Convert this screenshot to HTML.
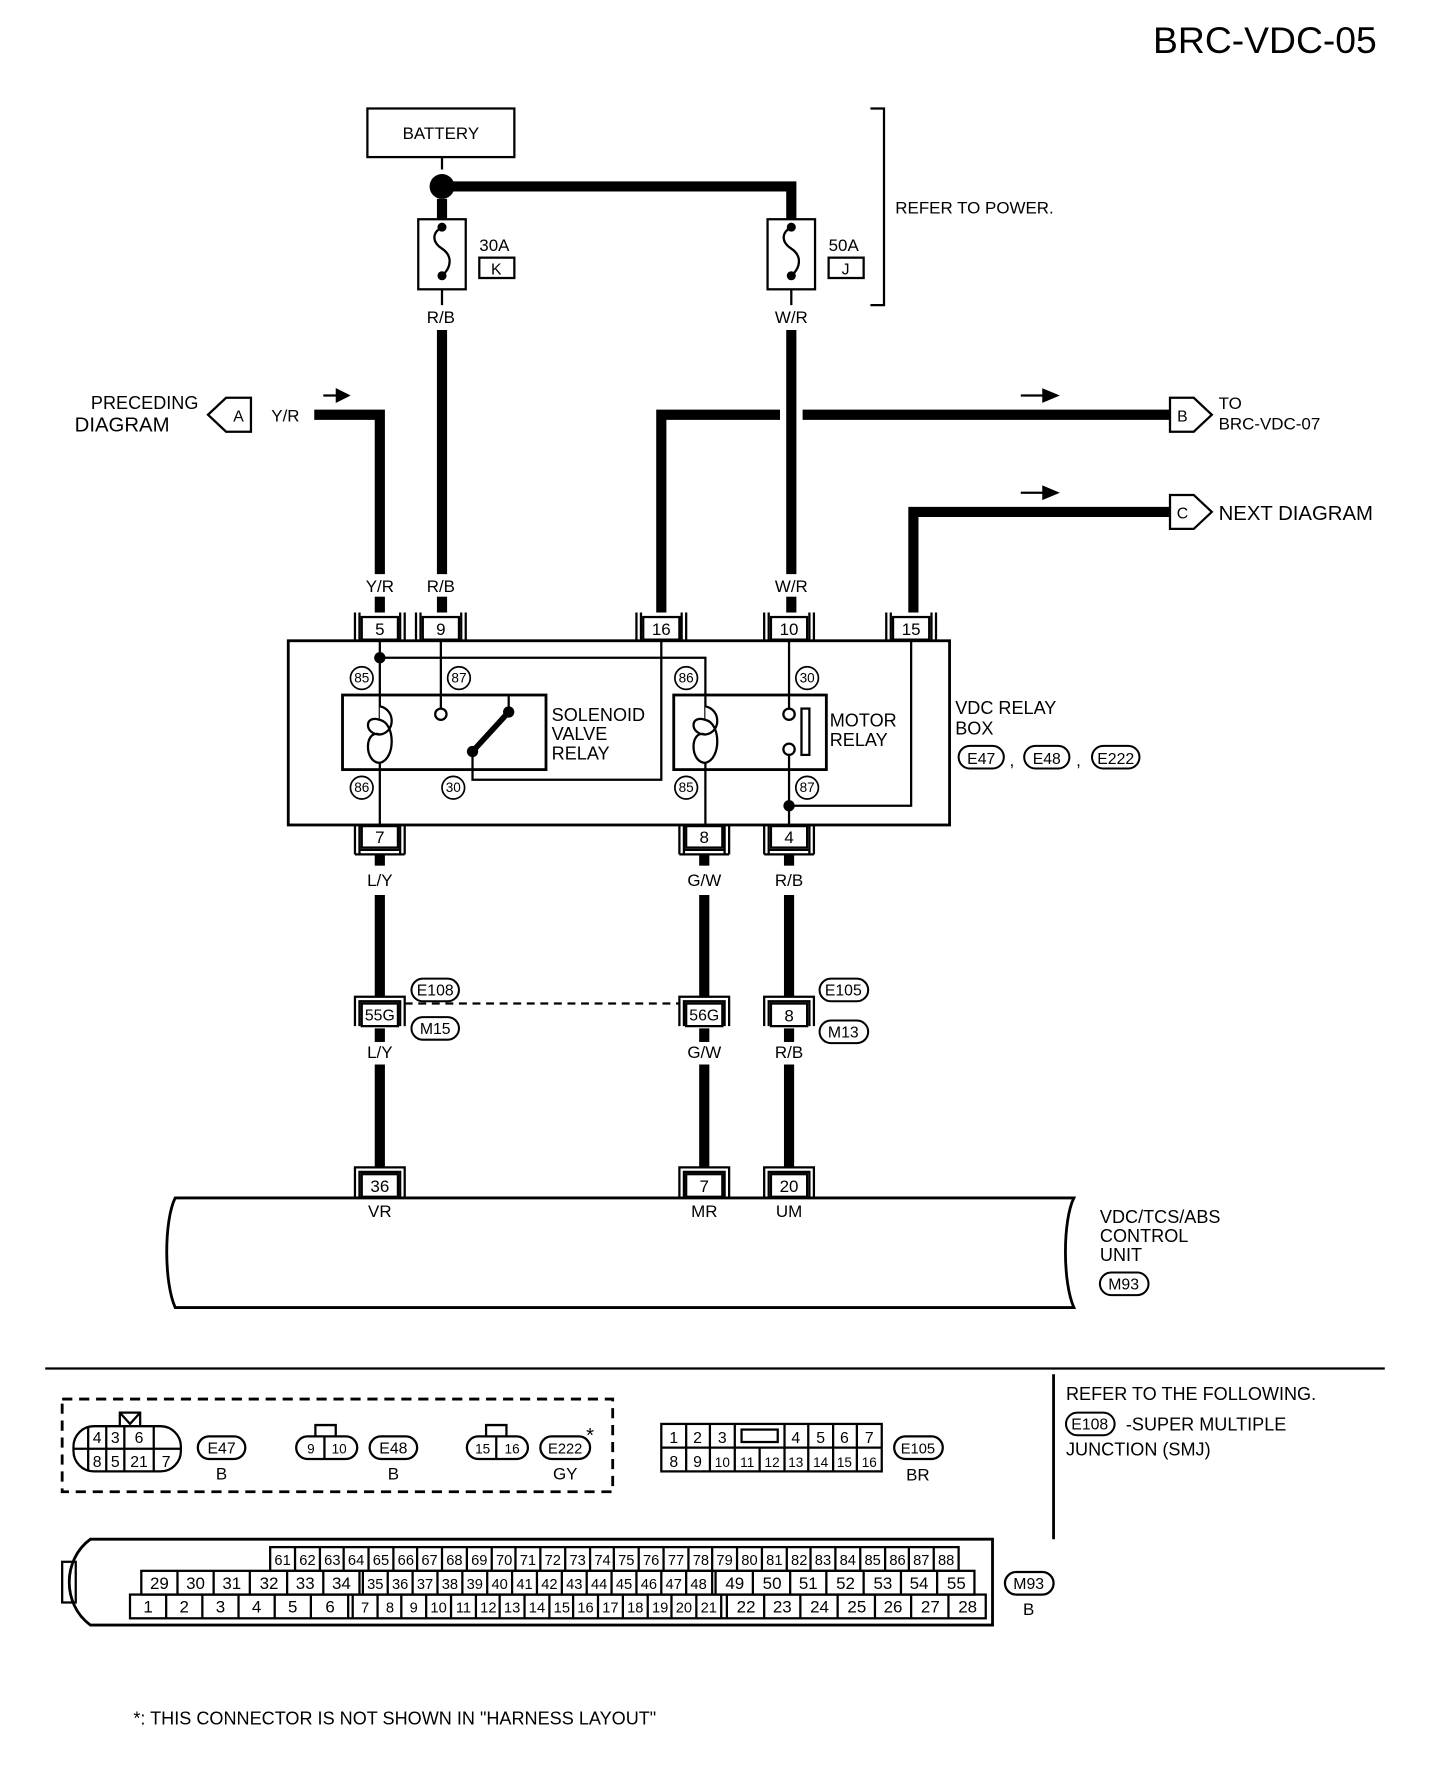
<!DOCTYPE html>
<html><head><meta charset="utf-8"><style>
html,body{margin:0;padding:0;background:#fff}
svg{display:block}
text{font-family:"Liberation Sans",sans-serif;fill:#000}
</style></head><body>
<svg width="1456" height="1772" viewBox="0 0 1288 1568" preserveAspectRatio="none" xmlns="http://www.w3.org/2000/svg">
<text x="1020" y="47" font-size="33">BRC-VDC-05</text>

<rect x="325" y="96" width="130" height="43" fill="none" stroke="#000" stroke-width="2"/>
<text x="390" y="123" font-size="15" text-anchor="middle">BATTERY</text>
<polyline points="770,96 782,96 782,270 770,270" fill="none" stroke="#000" stroke-width="2"/>
<text x="792" y="189" font-size="15">REFER TO POWER.</text>
<line x1="391" y1="139" x2="391" y2="150" stroke="#000" stroke-width="2"/>
<circle cx="391" cy="165" r="11" fill="#000"/>
<g stroke="#000" stroke-width="9" fill="none">
<polyline points="391,165 700,165 700,194"/>
<line x1="391" y1="176" x2="391" y2="194"/>
<line x1="391" y1="292" x2="391" y2="508"/>
<line x1="700" y1="292" x2="700" y2="508"/>
<polyline points="278,367 336,367 336,508"/>
<polyline points="585,542 585,367 690,367"/>
<line x1="710" y1="367" x2="1035" y2="367"/>
<polyline points="808,542 808,453 1035,453"/>
<line x1="336" y1="528" x2="336" y2="542"/>
<line x1="391" y1="528" x2="391" y2="542"/>
<line x1="700" y1="528" x2="700" y2="542"/>
</g>
<g fill="none" stroke="#000" stroke-width="2">
<rect x="370" y="194" width="42" height="62"/>
<path d="M391,201 C382,206 382,214 391,220 C400,226 400,236 391,244"/>
<rect x="679" y="194" width="42" height="62"/>
<path d="M700,201 C691,206 691,214 700,220 C709,226 709,236 700,244"/>
<rect x="424" y="228" width="31" height="18"/>
<rect x="733" y="228" width="31" height="18"/>
</g>
<circle cx="391" cy="201" r="4" fill="#000"/><circle cx="391" cy="244" r="4" fill="#000"/>
<circle cx="700" cy="201" r="4" fill="#000"/><circle cx="700" cy="244" r="4" fill="#000"/>
<line x1="391" y1="256" x2="391" y2="270" stroke="#000" stroke-width="2"/>
<line x1="700" y1="256" x2="700" y2="270" stroke="#000" stroke-width="2"/>
<text x="424" y="222" font-size="15">30A</text>
<text x="439" y="243" font-size="14" text-anchor="middle">K</text>
<text x="733" y="222" font-size="15">50A</text>
<text x="748" y="243" font-size="14" text-anchor="middle">J</text>
<text x="390" y="286" font-size="15" text-anchor="middle">R/B</text>
<text x="700" y="286" font-size="15" text-anchor="middle">W/R</text>

<polygon points="184,367 200,352 222,352 222,382 200,382" fill="#fff" stroke="#000" stroke-width="2"/>
<text x="211" y="373" font-size="14" text-anchor="middle">A</text>
<text x="128" y="362" font-size="16" text-anchor="middle">PRECEDING</text>
<text x="108" y="382" font-size="18" text-anchor="middle">DIAGRAM</text>
<text x="240" y="373" font-size="15">Y/R</text>
<polygon points="1035,352 1056,352 1072,367 1056,382 1035,382" fill="#fff" stroke="#000" stroke-width="2"/>
<text x="1046" y="373" font-size="14" text-anchor="middle">B</text>
<text x="1078" y="362" font-size="15">TO</text>
<text x="1078" y="380" font-size="15">BRC-VDC-07</text>
<polygon points="1035,438 1056,438 1072,453 1056,468 1035,468" fill="#fff" stroke="#000" stroke-width="2"/>
<text x="1046" y="459" font-size="14" text-anchor="middle">C</text>
<text x="1078" y="460" font-size="18">NEXT DIAGRAM</text>
<g stroke="#000" stroke-width="2" fill="#000">
<line x1="286" y1="350" x2="300" y2="350"/><polygon points="298,345 308,350 298,355"/>
<line x1="903" y1="350" x2="925" y2="350"/><polygon points="923,345 935,350 923,355"/>
<line x1="903" y1="436" x2="925" y2="436"/><polygon points="923,431 935,436 923,441"/>
</g>

<g font-size="15" text-anchor="middle">
<text x="336" y="524">Y/R</text><text x="390" y="524">R/B</text><text x="700" y="524">W/R</text>
<text x="336" y="784">L/Y</text><text x="623" y="784">G/W</text><text x="698" y="784">R/B</text>
<text x="336" y="936">L/Y</text><text x="623" y="936">G/W</text><text x="698" y="936">R/B</text>
<text x="336" y="1077">VR</text><text x="623" y="1077">MR</text><text x="698" y="1077">UM</text>
</g>

<g fill="#fff" stroke="#000" stroke-width="2">
<path d="M314,542 V567 M318,542 V567 M354,542 V567 M358,542 V567" /><rect x="320" y="546" width="32" height="20"/>
<path d="M368,542 V567 M372,542 V567 M408,542 V567 M412,542 V567" /><rect x="374" y="546" width="32" height="20"/>
<path d="M563,542 V567 M567,542 V567 M603,542 V567 M607,542 V567" /><rect x="569" y="546" width="32" height="20"/>
<path d="M676,542 V567 M680,542 V567 M716,542 V567 M720,542 V567" /><rect x="682" y="546" width="32" height="20"/>
<path d="M784,542 V567 M788,542 V567 M824,542 V567 M828,542 V567" /><rect x="790" y="546" width="32" height="20"/>
</g>
<g font-size="15" text-anchor="middle">
<text x="336" y="562">5</text><text x="390" y="562">9</text><text x="585" y="562">16</text><text x="698" y="562">10</text><text x="806" y="562">15</text>
</g>

<rect x="255" y="567" width="585" height="163" fill="none" stroke="#000" stroke-width="2.5"/>
<g fill="none" stroke="#000" stroke-width="2">
<line x1="336" y1="567" x2="336" y2="730"/>
<polyline points="336,582 624,582 624,730"/>
<line x1="390" y1="567" x2="390" y2="627"/>
<line x1="698" y1="567" x2="698" y2="627"/>
<line x1="698" y1="668" x2="698" y2="730"/>
<polyline points="698,713 806,713 806,567"/>
<polyline points="585,567 585,690 418,690 418,665"/>
<line x1="450" y1="630" x2="450" y2="615"/>
<rect x="303" y="615" width="180" height="66" stroke-width="2.5"/>
<rect x="596" y="615" width="135" height="66" stroke-width="2.5"/>
<circle cx="390" cy="632" r="5" fill="#fff"/>
<circle cx="698" cy="632" r="5" fill="#fff"/>
<circle cx="698" cy="663" r="5" fill="#fff"/>
<rect x="709" y="627" width="7" height="41"/>
<path d="M336,625 C350,628 350,648 336,650 C322,650 322,632 336,637 M336,637 C350,640 350,672 336,675 C322,675 322,645 336,650" fill="#fff"/>
<path d="M624,625 C638,628 638,648 624,650 C610,650 610,632 624,637 M624,637 C638,640 638,672 624,675 C610,675 610,645 624,650" fill="#fff"/>
</g>
<line x1="418" y1="665" x2="450" y2="630" stroke="#000" stroke-width="5"/>
<circle cx="418" cy="665" r="5" fill="#000"/><circle cx="450" cy="630" r="5" fill="#000"/>
<circle cx="336" cy="582" r="5" fill="#000"/><circle cx="698" cy="713" r="5" fill="#000"/>
<g fill="#fff" stroke="#000" stroke-width="1.5">
<circle cx="320" cy="600" r="10"/><circle cx="406" cy="600" r="10"/><circle cx="320" cy="697" r="10"/><circle cx="401" cy="697" r="10"/>
<circle cx="607" cy="600" r="10"/><circle cx="714" cy="600" r="10"/><circle cx="607" cy="697" r="10"/><circle cx="714" cy="697" r="10"/>
</g>
<g font-size="12" text-anchor="middle">
<text x="320" y="604">85</text><text x="406" y="604">87</text><text x="320" y="701">86</text><text x="401" y="701">30</text>
<text x="607" y="604">86</text><text x="714" y="604">30</text><text x="607" y="701">85</text><text x="714" y="701">87</text>
</g>
<g font-size="16">
<text x="488" y="638">SOLENOID</text><text x="488" y="655">VALVE</text><text x="488" y="672">RELAY</text>
<text x="734" y="643">MOTOR</text><text x="734" y="660">RELAY</text>
<text x="845" y="632">VDC RELAY</text><text x="845" y="650">BOX</text>
</g>
<g fill="#fff" stroke="#000" stroke-width="1.8">
<rect x="848" y="660" width="40" height="20" rx="10"/><rect x="906" y="660" width="40" height="20" rx="10"/><rect x="966" y="660" width="42" height="20" rx="10"/>
</g>
<g font-size="14" text-anchor="middle">
<text x="868" y="676">E47</text><text x="926" y="676">E48</text><text x="987" y="676">E222</text>
</g>
<text x="893" y="678" font-size="15">,</text><text x="952" y="678" font-size="15">,</text>

<g fill="#fff" stroke="#000" stroke-width="2">
<path d="M314,730 V756 M318,730 V756 M354,730 V756 M358,730 V756 M314,756 H358 M318,752 H354"/><rect x="320" y="731" width="32" height="19"/>
<path d="M601,730 V756 M605,730 V756 M641,730 V756 M645,730 V756 M601,756 H645 M605,752 H641"/><rect x="607" y="731" width="32" height="19"/>
<path d="M676,730 V756 M680,730 V756 M716,730 V756 M720,730 V756 M676,756 H720 M680,752 H716"/><rect x="682" y="731" width="32" height="19"/>
</g>
<g font-size="15" text-anchor="middle"><text x="336" y="746">7</text><text x="623" y="746">8</text><text x="698" y="746">4</text></g>

<g stroke="#000" stroke-width="9">
<line x1="336" y1="757" x2="336" y2="766"/><line x1="623" y1="757" x2="623" y2="766"/><line x1="698" y1="757" x2="698" y2="766"/>
<line x1="336" y1="792" x2="336" y2="882"/><line x1="623" y1="792" x2="623" y2="882"/><line x1="698" y1="792" x2="698" y2="882"/>
<line x1="336" y1="910" x2="336" y2="922"/><line x1="623" y1="910" x2="623" y2="922"/><line x1="698" y1="910" x2="698" y2="922"/>
<line x1="336" y1="942" x2="336" y2="1036"/><line x1="623" y1="942" x2="623" y2="1036"/><line x1="698" y1="942" x2="698" y2="1036"/>
</g>
<g fill="#fff" stroke="#000" stroke-width="2">
<path d="M314,908 V882 H358 V908 M318,908 V886 H354 V908"/><rect x="320" y="888" width="32" height="20"/>
<path d="M601,908 V882 H645 V908 M605,908 V886 H641 V908"/><rect x="607" y="888" width="32" height="20"/>
<path d="M676,908 V882 H720 V908 M680,908 V886 H716 V908"/><rect x="682" y="888" width="32" height="20"/>
</g>
<g font-size="14" text-anchor="middle"><text x="336" y="903">55G</text><text x="623" y="903">56G</text><text x="698" y="904" font-size="15">8</text></g>
<line x1="358" y1="888" x2="601" y2="888" stroke="#000" stroke-width="2" stroke-dasharray="7,5"/>
<g fill="#fff" stroke="#000" stroke-width="1.8">
<rect x="364" y="866" width="42" height="20" rx="10"/><rect x="364" y="900" width="42" height="20" rx="10"/>
<rect x="725" y="866" width="43" height="20" rx="10"/><rect x="725" y="903" width="43" height="20" rx="10"/>
</g>
<g font-size="14" text-anchor="middle"><text x="385" y="881">E108</text><text x="385" y="915">M15</text><text x="746" y="881">E105</text><text x="746" y="918">M13</text></g>

<g fill="#fff" stroke="#000" stroke-width="2">
<path d="M314,1060 V1033 H358 V1060 M318,1060 V1037 H354 V1060"/><rect x="320" y="1039" width="32" height="20"/>
<path d="M601,1060 V1033 H645 V1060 M605,1060 V1037 H641 V1060"/><rect x="607" y="1039" width="32" height="20"/>
<path d="M676,1060 V1033 H720 V1060 M680,1060 V1037 H716 V1060"/><rect x="682" y="1039" width="32" height="20"/>
</g>
<g font-size="15" text-anchor="middle"><text x="336" y="1055">36</text><text x="623" y="1055">7</text><text x="698" y="1055">20</text></g>
<path d="M155,1060 H950 C940,1080 940,1135 950,1157 H155 C145,1135 145,1080 155,1060 Z" fill="none" stroke="#000" stroke-width="2.5"/>
<g font-size="16"><text x="973" y="1082">VDC/TCS/ABS</text><text x="973" y="1099">CONTROL</text><text x="973" y="1116">UNIT</text></g>
<rect x="973" y="1126" width="43" height="20" rx="10" fill="#fff" stroke="#000" stroke-width="1.8"/>
<text x="994" y="1141" font-size="14" text-anchor="middle">M93</text>

<line x1="40" y1="1211" x2="1225" y2="1211" stroke="#000" stroke-width="2"/>
<line x1="932" y1="1216" x2="932" y2="1362" stroke="#000" stroke-width="2.5"/>
<text x="943" y="1239" font-size="16">REFER TO THE FOLLOWING.</text>
<rect x="943" y="1250" width="43" height="20" rx="10" fill="#fff" stroke="#000" stroke-width="1.8"/>
<text x="964" y="1265" font-size="14" text-anchor="middle">E108</text>
<text x="996" y="1266" font-size="16">-SUPER MULTIPLE</text>
<text x="943" y="1288" font-size="16">JUNCTION (SMJ)</text>

<rect x="55" y="1238" width="487" height="82" fill="none" stroke="#000" stroke-width="2.5" stroke-dasharray="9,6"/>
<g fill="none" stroke="#000" stroke-width="2">
<rect x="65" y="1262" width="95" height="40" rx="18"/>
<line x1="65" y1="1282" x2="160" y2="1282"/>
<line x1="78" y1="1262" x2="78" y2="1302"/><line x1="94" y1="1262" x2="94" y2="1302"/><line x1="110" y1="1262" x2="110" y2="1302"/>
<line x1="136" y1="1262" x2="136" y2="1282"/><line x1="136" y1="1282" x2="136" y2="1302"/>
<path d="M106,1262 V1250 H124 V1262 M106,1250 L115,1260 L124,1250"/>
<rect x="175" y="1271" width="42" height="20" rx="10"/>
<rect x="262" y="1271" width="54" height="20" rx="10"/><line x1="287" y1="1271" x2="287" y2="1291"/>
<polyline points="279,1271 279,1261 297,1261 297,1271"/>
<rect x="327" y="1271" width="42" height="20" rx="10"/>
<rect x="413" y="1271" width="54" height="20" rx="10"/><line x1="439" y1="1271" x2="439" y2="1291"/>
<polyline points="430,1271 430,1261 448,1261 448,1271"/>
<rect x="478" y="1271" width="44" height="20" rx="10"/>
</g>
<g font-size="14" text-anchor="middle">
<text x="86" y="1277">4</text><text x="102" y="1277">3</text><text x="123" y="1277">6</text>
<text x="86" y="1298">8</text><text x="102" y="1298">5</text><text x="123" y="1298">21</text><text x="147" y="1298">7</text>
<text x="196" y="1286">E47</text><text x="196" y="1309" font-size="15">B</text>
<text x="275" y="1286" font-size="12">9</text><text x="300" y="1286" font-size="12">10</text>
<text x="348" y="1286">E48</text><text x="348" y="1309" font-size="15">B</text>
<text x="427" y="1286" font-size="12">15</text><text x="453" y="1286" font-size="12">16</text>
<text x="500" y="1286" font-size="13">E222</text><text x="500" y="1309" font-size="15">GY</text>
<text x="522" y="1276" font-size="18">*</text>
</g>
<g fill="none" stroke="#000" stroke-width="2">
<rect x="585" y="1260" width="195" height="42"/>
<line x1="585" y1="1281" x2="780" y2="1281"/>
<path d="M607,1260V1302 M628,1260V1302 M650,1260V1302 M672,1281V1302 M694,1260V1302 M715,1260V1302 M737,1260V1302 M758,1260V1302"/>
<rect x="656" y="1265" width="32" height="11"/>
<rect x="791" y="1271" width="43" height="20" rx="10"/>
</g>
<g font-size="14" text-anchor="middle">
<text x="596" y="1277">1</text><text x="617" y="1277">2</text><text x="639" y="1277">3</text><text x="704" y="1277">4</text><text x="726" y="1277">5</text><text x="747" y="1277">6</text><text x="769" y="1277">7</text>
<text x="596" y="1298">8</text><text x="617" y="1298">9</text><text x="639" y="1298" font-size="12">10</text><text x="661" y="1298" font-size="12">11</text><text x="683" y="1298" font-size="12">12</text><text x="704" y="1298" font-size="12">13</text><text x="726" y="1298" font-size="12">14</text><text x="747" y="1298" font-size="12">15</text><text x="769" y="1298" font-size="12">16</text>
<text x="812" y="1286" font-size="13">E105</text><text x="812" y="1310" font-size="15">BR</text>
</g>

<g fill="none" stroke="#000" stroke-width="2">
<path d="M80,1362 H878 V1438 H80 C55,1420 55,1380 80,1362 Z" stroke-width="2.5"/>
<rect x="55" y="1382" width="12" height="36"/>
<rect x="239" y="1369" width="609" height="21"/>
<rect x="125" y="1390" width="737" height="21"/>
<rect x="115" y="1411" width="757" height="21"/>
<path d="M261,1369V1390 M283,1369V1390 M304,1369V1390 M326,1369V1390 M348,1369V1390 M369,1369V1390 M391,1369V1390 M413,1369V1390 M435,1369V1390 M456,1369V1390 M478,1369V1390 M500,1369V1390 M522,1369V1390 M543,1369V1390 M565,1369V1390 M587,1369V1390 M609,1369V1390 M630,1369V1390 M652,1369V1390 M674,1369V1390 M696,1369V1390 M717,1369V1390 M739,1369V1390 M761,1369V1390 M783,1369V1390 M804,1369V1390 M826,1369V1390"/>
<path d="M157,1390V1411 M189,1390V1411 M221,1390V1411 M254,1390V1411 M286,1390V1411 M318,1390V1411 M321,1390V1411 M343,1390V1411 M365,1390V1411 M387,1390V1411 M409,1390V1411 M431,1390V1411 M453,1390V1411 M475,1390V1411 M497,1390V1411 M519,1390V1411 M541,1390V1411 M563,1390V1411 M585,1390V1411 M607,1390V1411 M630,1390V1411 M633,1390V1411 M666,1390V1411 M699,1390V1411 M731,1390V1411 M764,1390V1411 M797,1390V1411 M829,1390V1411"/>
<path d="M147,1411V1432 M179,1411V1432 M211,1411V1432 M243,1411V1432 M275,1411V1432 M308,1411V1432 M312,1411V1432 M334,1411V1432 M355,1411V1432 M377,1411V1432 M399,1411V1432 M421,1411V1432 M442,1411V1432 M464,1411V1432 M486,1411V1432 M507,1411V1432 M529,1411V1432 M551,1411V1432 M573,1411V1432 M594,1411V1432 M616,1411V1432 M638,1411V1432 M643,1411V1432 M676,1411V1432 M708,1411V1432 M741,1411V1432 M774,1411V1432 M806,1411V1432 M839,1411V1432"/>
<rect x="889" y="1391" width="43" height="20" rx="10"/>
</g>
<g font-size="13" text-anchor="middle">
<text x="250" y="1385">61</text><text x="272" y="1385">62</text><text x="294" y="1385">63</text><text x="315" y="1385">64</text><text x="337" y="1385">65</text><text x="359" y="1385">66</text><text x="380" y="1385">67</text><text x="402" y="1385">68</text><text x="424" y="1385">69</text><text x="446" y="1385">70</text><text x="467" y="1385">71</text><text x="489" y="1385">72</text><text x="511" y="1385">73</text><text x="533" y="1385">74</text><text x="554" y="1385">75</text><text x="576" y="1385">76</text><text x="598" y="1385">77</text><text x="620" y="1385">78</text><text x="641" y="1385">79</text><text x="663" y="1385">80</text><text x="685" y="1385">81</text><text x="707" y="1385">82</text><text x="728" y="1385">83</text><text x="750" y="1385">84</text><text x="772" y="1385">85</text><text x="794" y="1385">86</text><text x="815" y="1385">87</text><text x="837" y="1385">88</text>
<g font-size="15"><text x="141" y="1406">29</text><text x="173" y="1406">30</text><text x="205" y="1406">31</text><text x="238" y="1406">32</text><text x="270" y="1406">33</text><text x="302" y="1406">34</text></g>
<text x="332" y="1406">35</text><text x="354" y="1406">36</text><text x="376" y="1406">37</text><text x="398" y="1406">38</text><text x="420" y="1406">39</text><text x="442" y="1406">40</text><text x="464" y="1406">41</text><text x="486" y="1406">42</text><text x="508" y="1406">43</text><text x="530" y="1406">44</text><text x="552" y="1406">45</text><text x="574" y="1406">46</text><text x="596" y="1406">47</text><text x="618" y="1406">48</text>
<g font-size="15"><text x="650" y="1406">49</text><text x="683" y="1406">50</text><text x="715" y="1406">51</text><text x="748" y="1406">52</text><text x="781" y="1406">53</text><text x="813" y="1406">54</text><text x="846" y="1406">55</text>
<text x="131" y="1427">1</text><text x="163" y="1427">2</text><text x="195" y="1427">3</text><text x="227" y="1427">4</text><text x="259" y="1427">5</text><text x="292" y="1427">6</text></g>
<text x="323" y="1427">7</text><text x="345" y="1427">8</text><text x="366" y="1427">9</text><text x="388" y="1427">10</text><text x="410" y="1427">11</text><text x="432" y="1427">12</text><text x="453" y="1427">13</text><text x="475" y="1427">14</text><text x="497" y="1427">15</text><text x="518" y="1427">16</text><text x="540" y="1427">17</text><text x="562" y="1427">18</text><text x="584" y="1427">19</text><text x="605" y="1427">20</text><text x="627" y="1427">21</text>
<g font-size="15"><text x="660" y="1427">22</text><text x="692" y="1427">23</text><text x="725" y="1427">24</text><text x="758" y="1427">25</text><text x="790" y="1427">26</text><text x="823" y="1427">27</text><text x="856" y="1427">28</text></g>
<text x="910" y="1406" font-size="14">M93</text><text x="910" y="1429" font-size="15">B</text>
</g>

<text x="118" y="1526" font-size="16">*: THIS CONNECTOR IS NOT SHOWN IN "HARNESS LAYOUT"</text>
</svg>
</body></html>
